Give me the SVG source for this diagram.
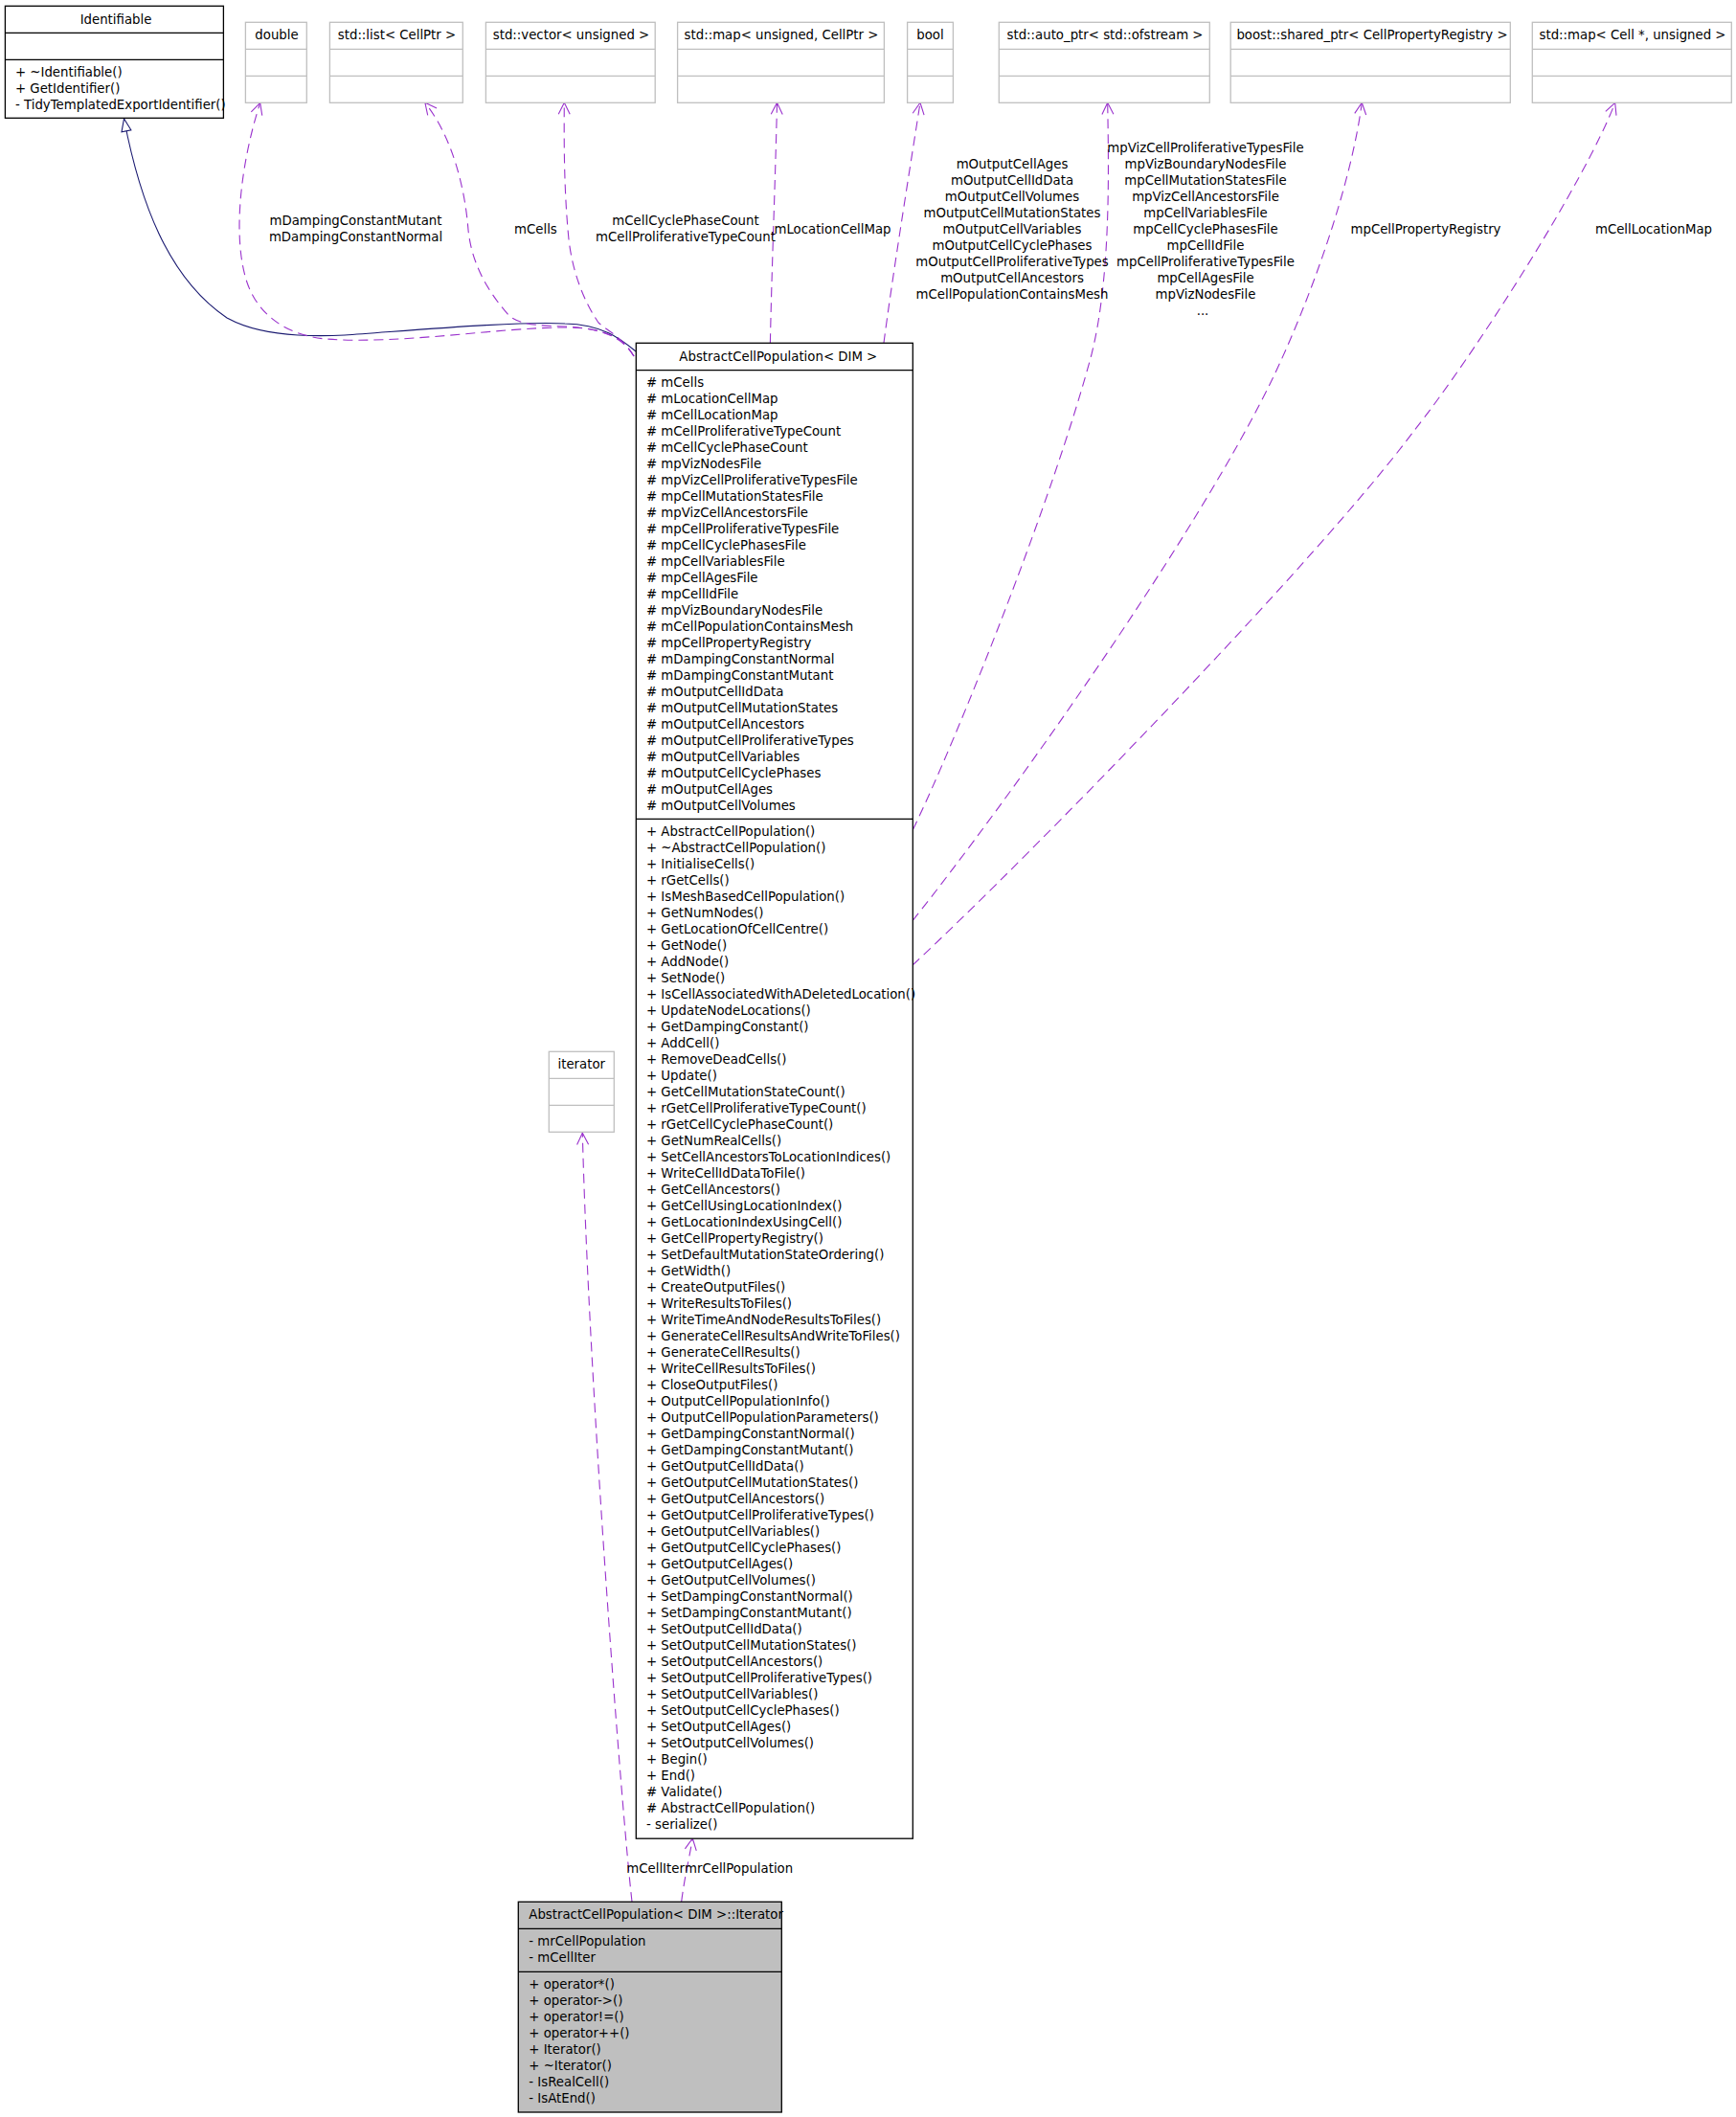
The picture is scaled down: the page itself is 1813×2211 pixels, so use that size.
<svg xmlns="http://www.w3.org/2000/svg" width="1813" height="2211" viewBox="0 0 1813 2211">
<style>
.t{font-family:"DejaVu Sans","Liberation Sans",sans-serif;font-size:13.3px;fill:#000}
.m{text-anchor:middle}
.gb{fill:#fff;stroke:#bfbfbf;stroke-width:1.3}
.gl{stroke:#bfbfbf;stroke-width:1.3}
.bb{fill:#fff;stroke:#000;stroke-width:1.3}
.bl{stroke:#000;stroke-width:1.3}
.dep{fill:none;stroke:#9a32cd;stroke-width:1.1;stroke-dasharray:10 6;marker-end:url(#ov)}
.inh{fill:none;stroke:#191970;stroke-width:1.1;marker-end:url(#tri)}
</style>
<defs>
<marker id="ov" markerUnits="userSpaceOnUse" markerWidth="30" markerHeight="30" refX="15" refY="15" viewBox="0 0 30 30" orient="auto">
<path d="M3,9 L15,15 L3,21" fill="none" stroke="#9a32cd" stroke-width="1.1" stroke-dasharray="none"/>
</marker>
<marker id="tri" markerUnits="userSpaceOnUse" markerWidth="30" markerHeight="30" refX="15" refY="15" viewBox="0 0 30 30" orient="auto">
<path d="M2,10 L15,15 L2,20 Z" fill="#fff" stroke="#191970" stroke-width="1.1"/>
</marker>
</defs>
<rect width="1813" height="2211" fill="#fff"/>

<g id="connectors">
<path class="inh" d="M664,367 C648,354 630,339 590,338 C540,335 420,346 360,350 C300,353 262,346 237,332 C175,290 146,210 129.5,124"/>
<path class="dep" d="M662,372 C650,352 630,342 590,342 C520,342 420,360 340,354 C300,350 270,330 258,295 C243,250 250,175 271.7,107.3"/>
<path class="dep" d="M662,372 C650,352 630,343 590,341 C565,340 545,340 532,330 C505,300 492,270 489,240 C485,190 470,140 443.9,107.3"/>
<path class="dep" d="M662,372 C650,352 635,346 625,337 C610,315 598,285 594,250 C589,200 589,150 589.3,107.3"/>
<path class="dep" d="M804.4,358 C806,280 810,180 811.5,107.3"/>
<path class="dep" d="M923,358 C932,290 948,190 961,107.3"/>
<path class="dep" d="M953.3,866.7 C1000,770 1100,520 1140,370 C1160,290 1158,180 1156.7,107.3"/>
<path class="dep" d="M953,961.7 C1050,840 1250,560 1330,393.3 C1365,320 1410,200 1422.3,107.3"/>
<path class="dep" d="M953,1008 C1080,890 1380,580 1476.7,450 C1540,370 1655,190 1686.7,107.3"/>
<path class="dep" d="M660,1986 C650,1900 615,1450 608.3,1183.3"/>
<path class="dep" d="M711.7,1986 C715,1960 720,1940 723.3,1920"/>
<g class="t m">
<text x="371.5" y="235">mDampingConstantMutant</text>
<text x="371.5" y="252">mDampingConstantNormal</text>
<text x="559.4" y="244">mCells</text>
<text x="716" y="235">mCellCyclePhaseCount</text>
<text x="716" y="252">mCellProliferativeTypeCount</text>
<text x="869.5" y="244">mLocationCellMap</text>
<text x="1057" y="176">mOutputCellAges</text>
<text x="1057" y="193">mOutputCellIdData</text>
<text x="1057" y="210">mOutputCellVolumes</text>
<text x="1057" y="227">mOutputCellMutationStates</text>
<text x="1057" y="244">mOutputCellVariables</text>
<text x="1057" y="261">mOutputCellCyclePhases</text>
<text x="1057" y="278">mOutputCellProliferativeTypes</text>
<text x="1057" y="295">mOutputCellAncestors</text>
<text x="1057" y="312">mCellPopulationContainsMesh</text>
<text x="1259" y="159">mpVizCellProliferativeTypesFile</text>
<text x="1259" y="176">mpVizBoundaryNodesFile</text>
<text x="1259" y="193">mpCellMutationStatesFile</text>
<text x="1259" y="210">mpVizCellAncestorsFile</text>
<text x="1259" y="227">mpCellVariablesFile</text>
<text x="1259" y="244">mpCellCyclePhasesFile</text>
<text x="1259" y="261">mpCellIdFile</text>
<text x="1259" y="278">mpCellProliferativeTypesFile</text>
<text x="1259" y="295">mpCellAgesFile</text>
<text x="1259" y="312">mpVizNodesFile</text>
<text x="1256" y="328.5">...</text>
<text x="1489" y="244">mpCellPropertyRegistry</text>
<text x="1727" y="244">mCellLocationMap</text>
</g>
<text class="t" x="654.3" y="1956">mCellIter</text>
<text class="t" x="715" y="1956">mrCellPopulation</text>
</g>

<g id="node-identifiable">
<rect class="bb" x="5.4" y="6.3" width="228" height="117"/>
<line class="bl" x1="5.4" y1="34.3" x2="233.4" y2="34.3"/>
<line class="bl" x1="5.4" y1="62.3" x2="233.4" y2="62.3"/>
<text class="t m" x="121" y="24.5">Identifiable</text>
<text class="t" x="16" y="79.5">+ ~Identifiable()</text>
<text class="t" x="16" y="96.5">+ GetIdentifier()</text>
<text class="t" x="16" y="113.5">- TidyTemplatedExportIdentifier()</text>
</g>

<g id="node-double">
<rect class="gb" x="256.4" y="23.3" width="63.9" height="84"/>
<line class="gl" x1="256.4" y1="51.3" x2="320.3" y2="51.3"/>
<line class="gl" x1="256.4" y1="79.3" x2="320.3" y2="79.3"/>
<text class="t m" x="289" y="41">double</text>
</g>

<g id="node-list">
<rect class="gb" x="344.4" y="23.3" width="138.9" height="84"/>
<line class="gl" x1="344.4" y1="51.3" x2="483.3" y2="51.3"/>
<line class="gl" x1="344.4" y1="79.3" x2="483.3" y2="79.3"/>
<text class="t m" x="414.5" y="41">std::list&lt; CellPtr &gt;</text>
</g>

<g id="node-vector">
<rect class="gb" x="507.4" y="23.3" width="176.8" height="84"/>
<line class="gl" x1="507.4" y1="51.3" x2="684.2" y2="51.3"/>
<line class="gl" x1="507.4" y1="79.3" x2="684.2" y2="79.3"/>
<text class="t m" x="596.5" y="41">std::vector&lt; unsigned &gt;</text>
</g>

<g id="node-map-unsigned">
<rect class="gb" x="707.6" y="23.3" width="215.8" height="84"/>
<line class="gl" x1="707.6" y1="51.3" x2="923.4" y2="51.3"/>
<line class="gl" x1="707.6" y1="79.3" x2="923.4" y2="79.3"/>
<text class="t m" x="816" y="41">std::map&lt; unsigned, CellPtr &gt;</text>
</g>

<g id="node-bool">
<rect class="gb" x="947.6" y="23.3" width="47.8" height="84"/>
<line class="gl" x1="947.6" y1="51.3" x2="995.4" y2="51.3"/>
<line class="gl" x1="947.6" y1="79.3" x2="995.4" y2="79.3"/>
<text class="t m" x="971.5" y="41">bool</text>
</g>

<g id="node-auto-ptr">
<rect class="gb" x="1043.3" y="23.3" width="220" height="84"/>
<line class="gl" x1="1043.3" y1="51.3" x2="1263.3" y2="51.3"/>
<line class="gl" x1="1043.3" y1="79.3" x2="1263.3" y2="79.3"/>
<text class="t m" x="1154" y="41">std::auto_ptr&lt; std::ofstream &gt;</text>
</g>

<g id="node-shared-ptr">
<rect class="gb" x="1285.2" y="23.3" width="292.1" height="84"/>
<line class="gl" x1="1285.2" y1="51.3" x2="1577.3" y2="51.3"/>
<line class="gl" x1="1285.2" y1="79.3" x2="1577.3" y2="79.3"/>
<text class="t m" x="1433" y="41">boost::shared_ptr&lt; CellPropertyRegistry &gt;</text>
</g>

<g id="node-map-cell">
<rect class="gb" x="1600.3" y="23.3" width="208" height="84"/>
<line class="gl" x1="1600.3" y1="51.3" x2="1808.3" y2="51.3"/>
<line class="gl" x1="1600.3" y1="79.3" x2="1808.3" y2="79.3"/>
<text class="t m" x="1705" y="41">std::map&lt; Cell *, unsigned &gt;</text>
</g>

<g id="node-iterator">
<rect class="gb" x="573.3" y="1098.3" width="68" height="84"/>
<line class="gl" x1="573.3" y1="1126.3" x2="641.3" y2="1126.3"/>
<line class="gl" x1="573.3" y1="1154.3" x2="641.3" y2="1154.3"/>
<text class="t m" x="607.3" y="1116">iterator</text>
</g>

<g id="node-abstract-cell-population">
<rect class="bb" x="664.3" y="358.3" width="289" height="1561.9"/>
<line class="bl" x1="664.3" y1="386.7" x2="953.3" y2="386.7"/>
<line class="bl" x1="664.3" y1="855.3" x2="953.3" y2="855.3"/>
<text class="t m" x="812.8" y="376.5">AbstractCellPopulation&lt; DIM &gt;</text>
<g class="t">
<text x="675" y="404"># mCells</text>
<text x="675" y="421"># mLocationCellMap</text>
<text x="675" y="438"># mCellLocationMap</text>
<text x="675" y="455"># mCellProliferativeTypeCount</text>
<text x="675" y="472"># mCellCyclePhaseCount</text>
<text x="675" y="489"># mpVizNodesFile</text>
<text x="675" y="506"># mpVizCellProliferativeTypesFile</text>
<text x="675" y="523"># mpCellMutationStatesFile</text>
<text x="675" y="540"># mpVizCellAncestorsFile</text>
<text x="675" y="557"># mpCellProliferativeTypesFile</text>
<text x="675" y="574"># mpCellCyclePhasesFile</text>
<text x="675" y="591"># mpCellVariablesFile</text>
<text x="675" y="608"># mpCellAgesFile</text>
<text x="675" y="625"># mpCellIdFile</text>
<text x="675" y="642"># mpVizBoundaryNodesFile</text>
<text x="675" y="659"># mCellPopulationContainsMesh</text>
<text x="675" y="676"># mpCellPropertyRegistry</text>
<text x="675" y="693"># mDampingConstantNormal</text>
<text x="675" y="710"># mDampingConstantMutant</text>
<text x="675" y="727"># mOutputCellIdData</text>
<text x="675" y="744"># mOutputCellMutationStates</text>
<text x="675" y="761"># mOutputCellAncestors</text>
<text x="675" y="778"># mOutputCellProliferativeTypes</text>
<text x="675" y="795"># mOutputCellVariables</text>
<text x="675" y="812"># mOutputCellCyclePhases</text>
<text x="675" y="829"># mOutputCellAges</text>
<text x="675" y="846"># mOutputCellVolumes</text>
<text x="675" y="872.5">+ AbstractCellPopulation()</text>
<text x="675" y="889.5">+ ~AbstractCellPopulation()</text>
<text x="675" y="906.5">+ InitialiseCells()</text>
<text x="675" y="923.5">+ rGetCells()</text>
<text x="675" y="940.5">+ IsMeshBasedCellPopulation()</text>
<text x="675" y="957.5">+ GetNumNodes()</text>
<text x="675" y="974.5">+ GetLocationOfCellCentre()</text>
<text x="675" y="991.5">+ GetNode()</text>
<text x="675" y="1008.5">+ AddNode()</text>
<text x="675" y="1025.5">+ SetNode()</text>
<text x="675" y="1042.5">+ IsCellAssociatedWithADeletedLocation()</text>
<text x="675" y="1059.5">+ UpdateNodeLocations()</text>
<text x="675" y="1076.5">+ GetDampingConstant()</text>
<text x="675" y="1093.5">+ AddCell()</text>
<text x="675" y="1110.5">+ RemoveDeadCells()</text>
<text x="675" y="1127.5">+ Update()</text>
<text x="675" y="1144.5">+ GetCellMutationStateCount()</text>
<text x="675" y="1161.5">+ rGetCellProliferativeTypeCount()</text>
<text x="675" y="1178.5">+ rGetCellCyclePhaseCount()</text>
<text x="675" y="1195.5">+ GetNumRealCells()</text>
<text x="675" y="1212.5">+ SetCellAncestorsToLocationIndices()</text>
<text x="675" y="1229.5">+ WriteCellIdDataToFile()</text>
<text x="675" y="1246.5">+ GetCellAncestors()</text>
<text x="675" y="1263.5">+ GetCellUsingLocationIndex()</text>
<text x="675" y="1280.5">+ GetLocationIndexUsingCell()</text>
<text x="675" y="1297.5">+ GetCellPropertyRegistry()</text>
<text x="675" y="1314.5">+ SetDefaultMutationStateOrdering()</text>
<text x="675" y="1331.5">+ GetWidth()</text>
<text x="675" y="1348.5">+ CreateOutputFiles()</text>
<text x="675" y="1365.5">+ WriteResultsToFiles()</text>
<text x="675" y="1382.5">+ WriteTimeAndNodeResultsToFiles()</text>
<text x="675" y="1399.5">+ GenerateCellResultsAndWriteToFiles()</text>
<text x="675" y="1416.5">+ GenerateCellResults()</text>
<text x="675" y="1433.5">+ WriteCellResultsToFiles()</text>
<text x="675" y="1450.5">+ CloseOutputFiles()</text>
<text x="675" y="1467.5">+ OutputCellPopulationInfo()</text>
<text x="675" y="1484.5">+ OutputCellPopulationParameters()</text>
<text x="675" y="1501.5">+ GetDampingConstantNormal()</text>
<text x="675" y="1518.5">+ GetDampingConstantMutant()</text>
<text x="675" y="1535.5">+ GetOutputCellIdData()</text>
<text x="675" y="1552.5">+ GetOutputCellMutationStates()</text>
<text x="675" y="1569.5">+ GetOutputCellAncestors()</text>
<text x="675" y="1586.5">+ GetOutputCellProliferativeTypes()</text>
<text x="675" y="1603.5">+ GetOutputCellVariables()</text>
<text x="675" y="1620.5">+ GetOutputCellCyclePhases()</text>
<text x="675" y="1637.5">+ GetOutputCellAges()</text>
<text x="675" y="1654.5">+ GetOutputCellVolumes()</text>
<text x="675" y="1671.5">+ SetDampingConstantNormal()</text>
<text x="675" y="1688.5">+ SetDampingConstantMutant()</text>
<text x="675" y="1705.5">+ SetOutputCellIdData()</text>
<text x="675" y="1722.5">+ SetOutputCellMutationStates()</text>
<text x="675" y="1739.5">+ SetOutputCellAncestors()</text>
<text x="675" y="1756.5">+ SetOutputCellProliferativeTypes()</text>
<text x="675" y="1773.5">+ SetOutputCellVariables()</text>
<text x="675" y="1790.5">+ SetOutputCellCyclePhases()</text>
<text x="675" y="1807.5">+ SetOutputCellAges()</text>
<text x="675" y="1824.5">+ SetOutputCellVolumes()</text>
<text x="675" y="1841.5">+ Begin()</text>
<text x="675" y="1858.5">+ End()</text>
<text x="675" y="1875.5"># Validate()</text>
<text x="675" y="1892.5"># AbstractCellPopulation()</text>
<text x="675" y="1909.5">- serialize()</text>
</g>
</g>

<g id="node-abstract-cell-population-iterator">
<rect x="541.3" y="1986.3" width="275" height="219.7" fill="#bfbfbf" stroke="#000" stroke-width="1.3"/>
<line class="bl" x1="541.3" y1="2014.3" x2="816.3" y2="2014.3"/>
<line class="bl" x1="541.3" y1="2059.3" x2="816.3" y2="2059.3"/>
<g class="t">
<text x="552.3" y="2004">AbstractCellPopulation&lt; DIM &gt;::Iterator</text>
<text x="552.3" y="2031.5">- mrCellPopulation</text>
<text x="552.3" y="2048.5">- mCellIter</text>
<text x="552.3" y="2076.5">+ operator*()</text>
<text x="552.3" y="2093.5">+ operator-&gt;()</text>
<text x="552.3" y="2110.5">+ operator!=()</text>
<text x="552.3" y="2127.5">+ operator++()</text>
<text x="552.3" y="2144.5">+ Iterator()</text>
<text x="552.3" y="2161.5">+ ~Iterator()</text>
<text x="552.3" y="2178.5">- IsRealCell()</text>
<text x="552.3" y="2195.5">- IsAtEnd()</text>
</g>
</g>
</svg>
